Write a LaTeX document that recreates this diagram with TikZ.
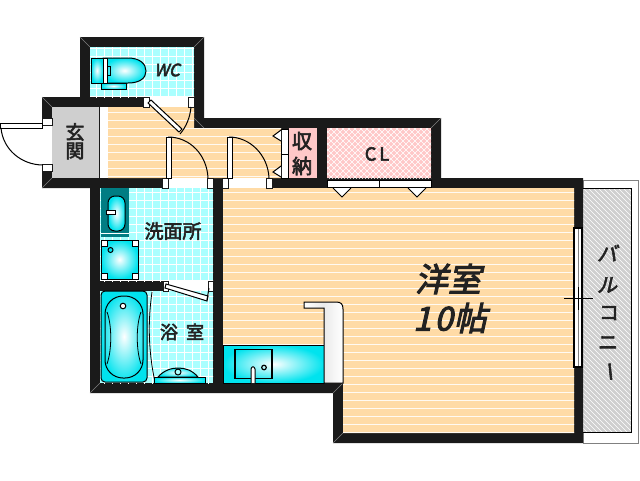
\documentclass[tikz,border=0pt]{standalone}
\usepackage{fontspec}
\newfontfamily\jpfont[FakeBold=3]{Noto Sans CJK JP}
\newfontfamily\jpslant[FakeSlant=0.22,FakeBold=3]{Noto Sans CJK JP}
\usetikzlibrary{arrows.meta}
\definecolor{wallcol}{HTML}{1A1A1A}
\definecolor{floorcol}{HTML}{FFDBA6}
\definecolor{tilecol}{HTML}{AAFFFF}
\definecolor{pinkcol}{HTML}{FFC8C8}
\definecolor{graycol}{HTML}{CFCFCF}
\definecolor{aquacol}{HTML}{00E3EE}
\definecolor{inkcol}{HTML}{222222}
\tikzset{
  floor/.style={fill=floorcol, path picture={
      \foreach \y in {0,8,...,480} \draw[white!85!floorcol, line width=0.6pt] (0,\y) -- (640,\y);}},
  tile/.style={fill=tilecol, path picture={
      \foreach \x in {0,8,...,640} \draw[white, line width=0.8pt] (\x,0) -- (\x,480);
      \foreach \y in {0,8,...,480} \draw[white, line width=0.8pt] (0,\y) -- (640,\y);}},
  cross/.style={fill=pinkcol, path picture={
      \foreach \x in {0,6,...,800} {
        \draw[white, line width=0.6pt] (\x,100) -- (\x-100,200);
        \draw[white, line width=0.6pt] (\x-100,100) -- (\x,200);}}},
  hatch/.style={fill=graycol, path picture={
      \foreach \x in {300,305,...,640} \draw[white, line width=0.7pt] (\x,170) -- (\x+300,470);}},
  fixture/.style={draw=black, line width=1pt, inner color=white, outer color=aquacol},
  leaf/.style={draw=black, fill=white, line width=1pt},
  swing/.style={draw=black, line width=1pt},
  bracket/.style={draw=wallcol, fill=white, line width=1pt},
  bevel/.style={draw=gray, line width=0.4pt},
  jp/.style={text=inkcol, font=\jpfont, inner sep=0pt},
  jpi/.style={text=inkcol, font=\jpslant, inner sep=0pt},
}
\begin{document}
\begin{tikzpicture}[x=1pt, y=-1pt]
  \useasboundingbox (0,0) rectangle (640,480);
  \fill[white] (0,0) rectangle (640,480);
  % balcony
  \draw[gray, fill=white, line width=0.6pt] (583,180) rectangle (638,443);
  \draw[black, hatch, line width=1pt] (583,188) -- (631,188) -- (631,432) -- (583,432);
  % walls
  \fill[wallcol] (80,37) -- (204,37) -- (204,118) -- (441,118) -- (441,178) -- (583,178)
    -- (583,443) -- (333,443) -- (333,393) -- (90,393) -- (90,188) -- (42,188) -- (42,97)
    -- (80,97) -- cycle;
  % rooms
  \path[tile] (90,47) rectangle (194,97);
  \fill[graycol] (52,107) rectangle (99,178);
  \draw[leaf, draw=wallcol] (99.5,106) rectangle (108,178);
  \path[floor] (108,107) -- (194,107) -- (194,128) -- (281,128) -- (281,178) -- (108,178) -- cycle;
  \fill[pinkcol] (289,128) rectangle (317,178);
  \path[cross] (327,128) rectangle (431,178);
  \path[tile] (100,188) rectangle (213,281);
  \path[tile] (100,291) rectangle (213,383);
  \path[floor] (223,188) -- (574,188) -- (574,433) -- (343,433) -- (343,383) -- (223,383) -- cycle;
  % wall corners
  \foreach \xa/\ya/\xb/\yb in {80/37/90/47, 204/37/194/47, 42/188/52/178, 204/128/194/118,
      441/118/431/128, 333/393/343/383, 333/443/343/433, 90/393/100/383, 42/97/52/107}
    \draw[bevel] (\xa,\ya) -- (\xb,\yb);
  % door openings
  \fill[white] (42,125) rectangle (52,165);
  \fill[white] (148,97) rectangle (190,107);
  \fill[white] (168,178) rectangle (207,188);
  \fill[white] (228,178) rectangle (267,188);
  \fill[white] (165,281) rectangle (210,291);
  \foreach \x/\y/\w/\h in {42/118/10/7, 42/164/10/7, 143/97/6/10, 188/97/6/10, 162/178/6/10, 207/178/6/10,
      222/178/6/10, 266/178/6/10, 163/281/5/10, 208/281/5/10}
    \draw[bracket] (\x,\y) rectangle +(\w,\h);
  % entrance door
  \draw[leaf] (0,123.5) rectangle (42,128);
  \draw[swing] (1,128) .. controls (3,150) and (22,165) .. (43,165);
  % wc door
  \draw[leaf] (148,103) -- (151,100) -- (182,129) -- (179,132) -- cycle;
  \draw[swing] (191,107) .. controls (190,118) and (186,127) .. (180,134);
  % hall doors
  \draw[leaf] (166,137) rectangle (171,178);
  \draw[swing] (168,137) .. controls (190,137) and (207,155) .. (208,178);
  \draw[leaf] (227,137) rectangle (232,178);
  \draw[swing] (229,137) .. controls (250,137) and (268,155) .. (269,178);
  % bath door
  \draw[leaf] (166,284) -- (208,296) -- (207,301) -- (165,288) -- cycle;
  \draw[swing] (209,288) -- (207,300);
  % closet doors
  \draw[leaf] (281.5,129) rectangle (288,154);
  \draw[leaf] (281.5,154) rectangle (288,178);
  \draw[leaf] (281,130) -- (273,136) -- (281,141);
  \draw[leaf] (281,166) -- (273,172) -- (281,177);
  \draw[leaf] (327.5,180) rectangle (379,187);
  \draw[leaf] (379,180) rectangle (431,187);
  \draw[leaf] (333,188) -- (342,197) -- (351,188);
  \draw[leaf] (408,188) -- (417,197) -- (426,188);
  % window
  \draw[leaf, line width=1.8pt] (574,228) rectangle (582,367);
  \draw[gray, line width=0.7pt] (578,229) -- (578,366);
  \draw[black, line width=1pt] (564,298) -- (593,298);
  \draw[black, line width=0.8pt] (578,287) -- (578,310);
  % toilet
  \shade[fixture] (101,83) rectangle (126,89);
  \shade[fixture] (103,58) -- (128,58) .. controls (140,58) and (146,64) .. (146,71)
    .. controls (146,78) and (140,83) .. (128,83) -- (103,83) -- cycle;
  \shade[fixture] (91,58) rectangle (103,83);
  \draw[leaf] (103,58) rectangle (107,83);
  \draw[black, line width=0.8pt] (107,66) rectangle (110,75);
  % wash basin
  \fill[black!45!aquacol] (101,188) rectangle (129,237);
  \draw[white, line width=0.8pt] (101,233) -- (129,233);
  \shade[fixture, rounded corners=7pt] (108,196) rectangle (125,231);
  \draw[leaf, line width=0.7pt] (106,210) rectangle (115,214);
  % washing machine
  \shade[fixture] (101,240) rectangle (138,279);
  \foreach \x/\y in {101/240, 132/240, 101/273, 132/273}
    \draw[leaf] (\x,\y) rectangle +(6,6);
  \draw[leaf, fill=aquacol] (110.5,250) circle (2.5);
  % bath tub
  \shade[draw=black, line width=1pt, inner color=white, outer color=aquacol, rounded corners=4pt] (101,291) rectangle (147,382);
  \draw[black, line width=1pt, rounded corners=18pt] (105,296) rectangle (143,378);
  \draw[black, line width=0.8pt] (107,312) .. controls (112,325) and (112,350) .. (107,364);
  \draw[black, line width=0.8pt] (141,312) .. controls (136,325) and (136,350) .. (141,364);
  \draw[leaf] (123,306) circle (2.8);
  \draw[black, line width=0.8pt] (152,292) .. controls (148,320) and (148,350) .. (155,382);
  % bath sink
  \shade[fixture] (158,377) .. controls (164,370) and (172,368) .. (178,368)
    .. controls (185,368) and (192,370) .. (198,377) -- cycle;
  \draw[leaf, fill=tilecol] (178,372) circle (3);
  \shade[fixture] (154,377) rectangle (205,383);
  % kitchen
  \shade[draw=black, line width=1pt, inner color=white, outer color=aquacol] (223.5,345) rectangle (324,383);
  \draw[black, line width=1.2pt] (235,349.5) rectangle (272,378.5);
  \draw[leaf] (251,383) -- (251,369) .. controls (252,366) and (254,366) .. (255,369) -- (255,383);
  \draw[black, line width=1.2pt] (264,367.5) circle (2.3);
  \shade[draw=black, line width=1pt, left color=white, right color=white, middle color=black!8]
    (304,302) -- (336,302) .. controls (341,302) and (343,304) .. (343,309) -- (343,383)
    -- (324,383) -- (324,308) -- (304,308) -- cycle;
  % labels
  \node[jpi, font=\jpslant\fontsize{17}{17}\selectfont] (wc) at (167,70) {WC};
  \node[jp, font=\jpfont\fontsize{19}{19}\selectfont] (genkanA) at (75,132) {玄};
  \node[jp, font=\jpfont\fontsize{19}{19}\selectfont] (genkanB) at (75,151) {関};
  \node[jp, font=\jpfont\fontsize{19}{19}\selectfont] (sennmen) at (173,231) {洗面所};
  \node[jp, font=\jpfont\fontsize{18}{18}\selectfont] (yokushitsu) at (182,332) {浴\hspace{8pt}室};
  \node[jp, font=\jpfont\fontsize{20}{20}\selectfont] (shuA) at (302,141) {収};
  \node[jp, font=\jpfont\fontsize{20}{20}\selectfont] (shuB) at (302,166) {納};
  \node[jp, font=\jpfont\fontsize{18}{18}\selectfont] (cl) at (377,154) {C\,L};
  \node[jpi, font=\jpslant\fontsize{33}{33}\selectfont] (youshitsu) at (448,279) {洋室};
  \node[jpi, font=\jpslant\fontsize{33}{33}\selectfont] (jou) at (450,318) {1\hspace{3pt}0\hspace{1pt}帖};
  \node[jp, font=\jpslant\fontsize{20}{20}\selectfont] (baA) at (607,253) {バ};
  \node[jp, font=\jpslant\fontsize{20}{20}\selectfont] (ruB) at (607,285) {ル};
  \node[jp, font=\jpfont\fontsize{20}{20}\selectfont] (koC) at (609,313) {コ};
  \node[jp, font=\jpfont\fontsize{20}{20}\selectfont] (niD) at (608,343) {ニ};
  \node[jp, font=\jpfont\fontsize{20}{20}\selectfont, rotate=-84] (boE) at (607,372) {ー};
\end{tikzpicture}
\end{document}
